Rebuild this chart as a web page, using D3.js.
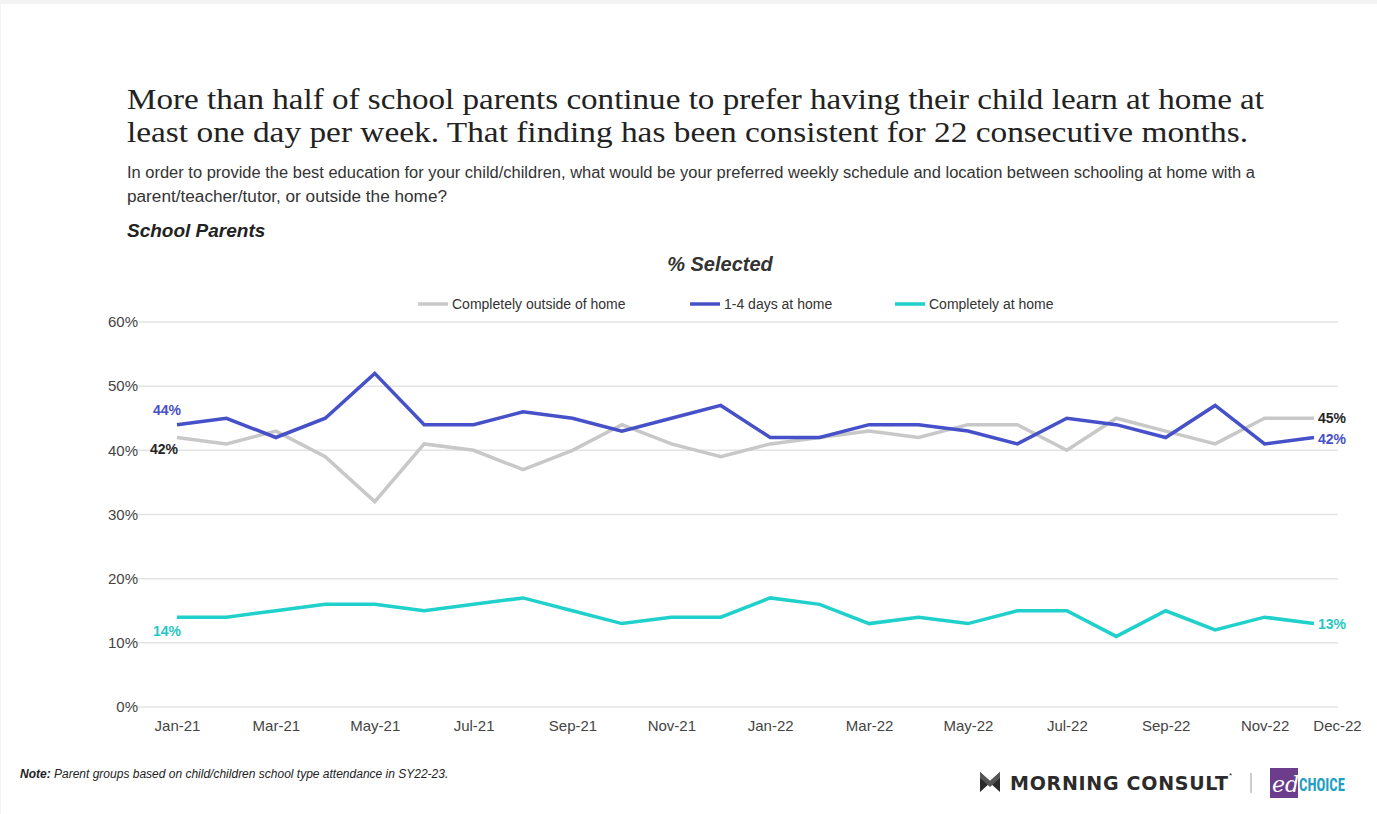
<!DOCTYPE html>
<html>
<head>
<meta charset="UTF-8">
<title>% Selected</title>
<style>
  body { margin: 0; background: #f4f4f4; font-family: "Liberation Sans", Arial, sans-serif; }
  svg { display: block; }
</style>
<script src="https://d3js.org/d3.v7.min.js"></script>
</head>
<body>
<svg id="chart" width="1377" height="814"></svg>
<script>
const months = ["Jan-21","Feb-21","Mar-21","Apr-21","May-21","Jun-21","Jul-21","Aug-21","Sep-21","Oct-21","Nov-21","Dec-21",
                "Jan-22","Feb-22","Mar-22","Apr-22","May-22","Jun-22","Jul-22","Aug-22","Sep-22","Oct-22","Nov-22","Dec-22"];
const outsideHome = [42,41,43,39,32,41,40,37,40,44,41,39,41,42,43,42,44,44,40,45,43,41,45,45];
const daysAtHome  = [44,45,42,45,52,44,44,46,45,43,45,47,42,42,44,44,43,41,45,44,42,47,41,42];
const atHome      = [14,14,15,16,16,15,16,17,15,13,14,14,17,16,13,14,13,15,15,11,15,12,14,13];
const tickMonths = ["Jan-21","Mar-21","May-21","Jul-21","Sep-21","Nov-21","Jan-22","Mar-22","May-22","Jul-22","Sep-22","Nov-22","Dec-22"];
const yTicks = [0, 10, 20, 30, 40, 50, 60];

const series = [
  { name: "Completely outside of home", values: outsideHome, color: "#c8c8c8", labelColor: "#262626" },
  { name: "1-4 days at home", values: daysAtHome, color: "#4650c8", labelColor: "#4650c8" },
  { name: "Completely at home", values: atHome, color: "#1fd0cb", labelColor: "#1fc8c4" }
];

const svg = d3.select("#chart");

// white card
svg.append("rect").attr("x", 1).attr("y", 4).attr("width", 1376).attr("height", 810).attr("fill", "#fff");

// headings
const title = svg.append("text")
  .attr("font-family", "'Liberation Serif', Georgia, serif")
  .attr("font-size", 30)
  .attr("fill", "#222");
title.append("tspan").attr("x", 127).attr("y", 109).attr("textLength", 1137).attr("lengthAdjust", "spacingAndGlyphs")
  .text("More than half of school parents continue to prefer having their child learn at home at");
title.append("tspan").attr("x", 127).attr("y", 142).attr("textLength", 1121).attr("lengthAdjust", "spacingAndGlyphs")
  .text("least one day per week. That finding has been consistent for 22 consecutive months.");

const sub = svg.append("text").attr("font-size", 16).attr("fill", "#333");
sub.append("tspan").attr("x", 127).attr("y", 178).attr("textLength", 1128).attr("lengthAdjust", "spacingAndGlyphs")
  .text("In order to provide the best education for your child/children, what would be your preferred weekly schedule and location between schooling at home with a");
sub.append("tspan").attr("x", 127).attr("y", 202).attr("textLength", 320).attr("lengthAdjust", "spacingAndGlyphs")
  .text("parent/teacher/tutor, or outside the home?");

svg.append("text").attr("x", 127).attr("y", 237)
  .attr("font-size", 19).attr("font-weight", "bold").attr("font-style", "italic").attr("fill", "#222")
  .text("School Parents");

svg.append("text").attr("x", 720).attr("y", 271).attr("text-anchor", "middle")
  .attr("font-size", 20).attr("font-weight", "bold").attr("font-style", "italic").attr("fill", "#333")
  .text("% Selected");

// scales
const x = d3.scalePoint().domain(months).range([177, 1314]);
const y = d3.scaleLinear().domain([0, 60]).range([707, 322]);

// grid
svg.append("g").selectAll("line").data(yTicks).join("line")
  .attr("x1", 137).attr("x2", 1338)
  .attr("y1", d => y(d)).attr("y2", d => y(d))
  .attr("stroke", "#e4e4e4").attr("stroke-width", 1.5);

// y axis
const yAxis = svg.append("g").attr("transform", "translate(138,0)")
  .call(d3.axisLeft(y).tickValues(yTicks).tickFormat(d => d + "%").tickSize(0).tickPadding(0));
yAxis.select(".domain").remove();
yAxis.selectAll("text").attr("font-size", 15).attr("fill", "#444").attr("font-family", "'Liberation Sans', Arial, sans-serif");

// x axis
const xAxis = svg.append("g").attr("transform", "translate(0,716)")
  .call(d3.axisBottom(x).tickValues(tickMonths).tickSize(0).tickPadding(4));
xAxis.select(".domain").remove();
xAxis.selectAll("text").attr("font-size", 15).attr("fill", "#444").attr("font-family", "'Liberation Sans', Arial, sans-serif");
// last label sits to the right of its point, as in the original
xAxis.selectAll(".tick").filter(d => d === "Dec-22").select("text").attr("dx", 23);

// lines
const line = d3.line().x((d, i) => x(months[i])).y(d => y(d));
svg.append("g").selectAll("path").data(series).join("path")
  .attr("d", d => line(d.values))
  .attr("fill", "none")
  .attr("stroke", d => d.color)
  .attr("stroke-width", 3.5)
  .attr("stroke-linejoin", "miter");

// end labels
const first = 0, last = months.length - 1;
const endLabels = [
  { s: series[1], i: first, dx: -24, dy: -10 },
  { s: series[0], i: first, dx: -27, dy: 16 },
  { s: series[2], i: first, dx: -24, dy: 19 },
  { s: series[0], i: last, dx: 4, dy: 5 },
  { s: series[1], i: last, dx: 4, dy: 6 },
  { s: series[2], i: last, dx: 4, dy: 5 }
];
svg.append("g").selectAll("text").data(endLabels).join("text")
  .attr("x", d => x(months[d.i]) + d.dx)
  .attr("y", d => y(d.s.values[d.i]) + d.dy)
  .attr("font-size", 14).attr("font-weight", "bold")
  .attr("fill", d => d.s.labelColor)
  .text(d => d.s.values[d.i] + "%");

// legend
const legendX = [418, 690, 895];
const leg = svg.append("g").selectAll("g").data(series).join("g")
  .attr("transform", (d, i) => `translate(${legendX[i]},304)`);
leg.append("line").attr("x1", 0).attr("x2", 30).attr("stroke", d => d.color).attr("stroke-width", 3.5);
leg.append("text").attr("x", 34).attr("y", 5).attr("font-size", 14).attr("fill", "#333").text(d => d.name);

// note
const note = svg.append("text").attr("x", 20).attr("y", 778).attr("font-size", 12).attr("font-style", "italic").attr("fill", "#222");
note.append("tspan").attr("font-weight", "bold").text("Note:");
note.append("tspan").text(" Parent groups based on child/children school type attendance in SY22-23.");

// logos
const logo = svg.append("g").attr("transform", "translate(980,782)");
logo.append("path").attr("d", "M0,-10 L10,-1 L20,-10 L20,10 L10,1 L0,10 Z").attr("fill", "#2b2b2b");
logo.append("path").attr("d", "M0,-10 L10,-1 L20,-10 L20,-4 L10,5 L0,-4 Z").attr("fill", "#555");
logo.append("text").attr("x", 30).attr("y", 8).attr("font-size", 19).attr("font-weight", "bold")
  .attr("fill", "#2b2b2b").attr("font-family", "'DejaVu Sans', sans-serif")
  .attr("textLength", 218).attr("lengthAdjust", "spacing")
  .text("MORNING CONSULT");
logo.append("text").attr("x", 249).attr("y", -4).attr("font-size", 8).attr("fill", "#2b2b2b").text("*");
logo.append("line").attr("x1", 271).attr("x2", 271).attr("y1", -9).attr("y2", 11).attr("stroke", "#999").attr("stroke-width", 1);
logo.append("rect").attr("x", 290).attr("y", -14).attr("width", 28).attr("height", 30).attr("fill", "#6b3d8c");
logo.append("text").attr("x", 292).attr("y", 10).attr("font-size", 22).attr("font-style", "italic")
  .attr("font-family", "'DejaVu Serif', serif").attr("fill", "#fff").text("ed");
logo.append("text").attr("x", 319).attr("y", 9).attr("font-size", 19).attr("font-weight", "bold")
  .attr("font-family", "'Liberation Sans Narrow', 'Roboto Condensed', sans-serif").attr("fill", "#1f9fc4")
  .attr("textLength", 46).attr("lengthAdjust", "spacingAndGlyphs").text("CHOICE");
</script>
</body>
</html>
